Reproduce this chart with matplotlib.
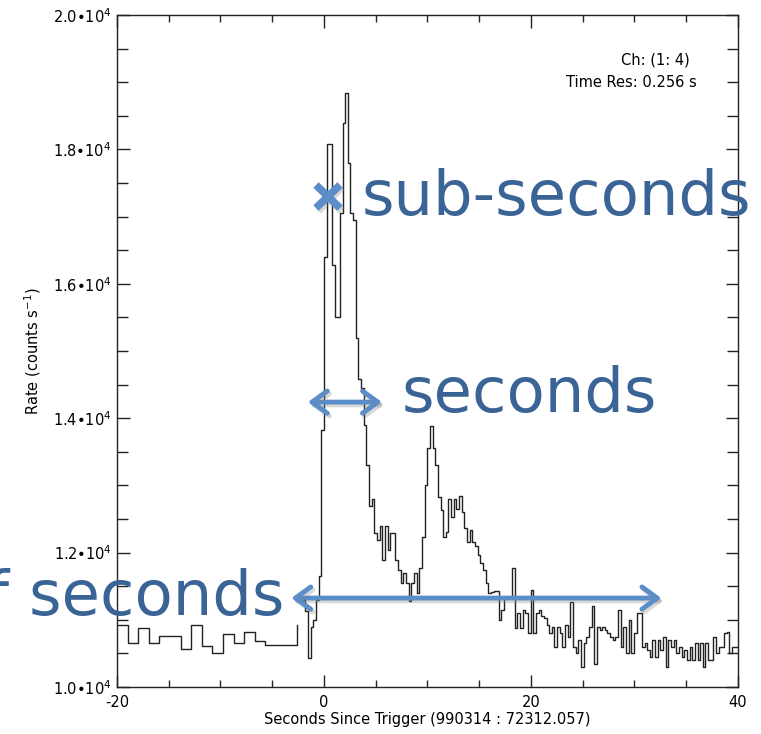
import matplotlib
matplotlib.use("Agg")
import matplotlib.pyplot as plt
import matplotlib.patheffects as pe
import numpy as np

plt.rcParams["axes.unicode_minus"] = False

# ----------------
# Light curve data (counts / s)
# ----------------
coarse_start = -20.0
coarse_res = 1.024
coarse_rate = [10920, 10655, 10880, 10655, 10760, 10760, 10565, 10920, 10610,
               10505, 10790, 10655, 10820, 10685, 10625, 10625, 10625]
coarse_end_rate = 10920

fine_start = -2.048
time_res = 0.256
fine_rate = [
    11300, 11130, 10430, 10900, 11000, 11300, 11650, 13820, 16400, 18080,
    18080, 16280, 15510, 15510, 17050, 18390, 18840, 17800, 17050, 16950,
    15200, 14590, 14450, 13900, 13300, 12700, 12800, 12290, 12190, 12390,
    11890, 12390, 12040, 12290, 12290, 11890, 11740, 11550, 11690, 11550,
    11280, 11550, 11690, 11400, 11770, 12240, 13010, 13550, 13880, 13550,
    13300, 12830, 12630, 12240, 12300, 12800, 12530, 12800, 12650, 12850,
    12600, 12370, 12160, 12330, 12160, 12100, 11960, 11850, 11740, 11550,
    11400, 11420, 11430, 11430, 11000, 11150, 11340, 11340, 11340, 11770,
    10880, 11100, 10880, 11150, 11100, 10800, 11440, 10800, 11100, 11150,
    11050, 11030, 10930, 10800, 10900, 10600, 10900, 10800, 10600, 10930,
    10750, 11270, 10600, 10500, 10700, 10300, 10650, 10750, 10900, 11200,
    10350, 10900, 10850, 10900, 10850, 10800, 10750, 10700, 10750, 11150,
    10600, 10900, 10500, 11000, 10500, 10800, 11100, 11100, 10600, 10650,
    10550, 10450, 10700, 10450, 10700, 10550, 10750, 10300, 10700, 10600,
    10700, 10500, 10600, 10450, 10550, 10400, 10600, 10400, 10650, 10400,
    10650, 10300, 10650, 10400, 10400, 10750, 10500, 10600, 10600, 10800,
    10820, 10500, 10600, 10600,
]

x_major = [-20, 0, 20, 40]
y_major = [10000, 12000, 14000, 16000, 18000, 20000]
y_labels = ["1.0•10$^4$", "1.2•10$^4$", "1.4•10$^4$", "1.6•10$^4$",
            "1.8•10$^4$", "2.0•10$^4$"]

# annotation layout (data coords)
text_color = "#3b6496"
arrow_color = "#5b8dc8"
cross_pos = (0.39, 17300)
short_arrow = (-1.55, 5.60, 14240)
long_arrow = (-3.15, 32.6, 11324)

# ----------------
# Figure
# ----------------
fig = plt.figure(figsize=(7.61, 7.34), dpi=100)
ax = fig.add_axes([0.1537, 0.0640, 0.8160, 0.9155])

t_coarse = coarse_start + coarse_res * np.arange(len(coarse_rate) + 1)
ax.plot(t_coarse, coarse_rate + [coarse_end_rate], drawstyle="steps-post",
        color="#222222", lw=1.0)

t_fine = fine_start + time_res * np.arange(len(fine_rate) + 1)
ax.plot(t_fine, fine_rate + [fine_rate[-1]], drawstyle="steps-post",
        color="#222222", lw=1.0)

ax.set_xlim(-20, 40)
ax.set_ylim(10000, 20000)
ax.set_xticks(x_major)
ax.set_xticks(np.arange(-20, 41, 5), minor=True)
ax.set_yticks(y_major)
ax.set_yticklabels(y_labels)
ax.set_yticks(np.arange(10000, 20001, 500), minor=True)

ax.tick_params(which="both", direction="in", top=True, right=True,
               labelsize=10.5, width=1.0, color="#222222")
ax.tick_params(axis="x", which="major", length=9, pad=6)
ax.tick_params(axis="x", which="minor", length=5)
ax.tick_params(axis="y", which="major", length=9, pad=4)
ax.tick_params(axis="y", which="minor", length=8)
for s in ax.spines.values():
    s.set_linewidth(1.0)
    s.set_color("#222222")

ax.set_xlabel("Seconds Since Trigger (990314 : 72312.057)", fontsize=10.5,
              labelpad=1)
ax.set_ylabel("Rate (counts s$^{-1}$)", fontsize=10.5, labelpad=7)

ax.text(0.923, 0.933, "Ch: (1: 4)", transform=ax.transAxes, ha="right",
        va="center", fontsize=10.5)
ax.text(0.934, 0.900, "Time Res: 0.256 s", transform=ax.transAxes, ha="right",
        va="center", fontsize=10.5)

# ----------------
# Annotations
# ----------------
shadow = [pe.SimpleLineShadow(offset=(1.5, -2), alpha=0.3, shadow_color="gray"),
          pe.Normal()]

ax.plot(*cross_pos, marker="x", ms=17, mew=5.5, color=arrow_color,
        path_effects=shadow, clip_on=False)

arrow_kw = dict(arrowstyle="<->,head_length=0.55,head_width=0.4",
                color=arrow_color, lw=3.5, mutation_scale=20,
                capstyle="round", joinstyle="round", shrinkA=0, shrinkB=0,
                path_effects=shadow)
ax.annotate("", xy=(short_arrow[1], short_arrow[2]),
            xytext=(short_arrow[0], short_arrow[2]),
            arrowprops=arrow_kw, annotation_clip=False)
ax.annotate("", xy=(long_arrow[1], long_arrow[2]),
            xytext=(long_arrow[0], long_arrow[2]),
            arrowprops=arrow_kw, annotation_clip=False)

# the last label runs off the left edge, as on the original slide
ax.text(3.64, 17024, "sub-seconds", color=text_color, fontsize=45,
        ha="left", va="baseline")
ax.text(7.5, 14092, "seconds", color=text_color, fontsize=45,
        ha="left", va="baseline")
ax.text(-3.8, 11071, "tens of seconds", color=text_color, fontsize=45,
        ha="right", va="baseline")

fig.savefig("out.png", dpi=100)
